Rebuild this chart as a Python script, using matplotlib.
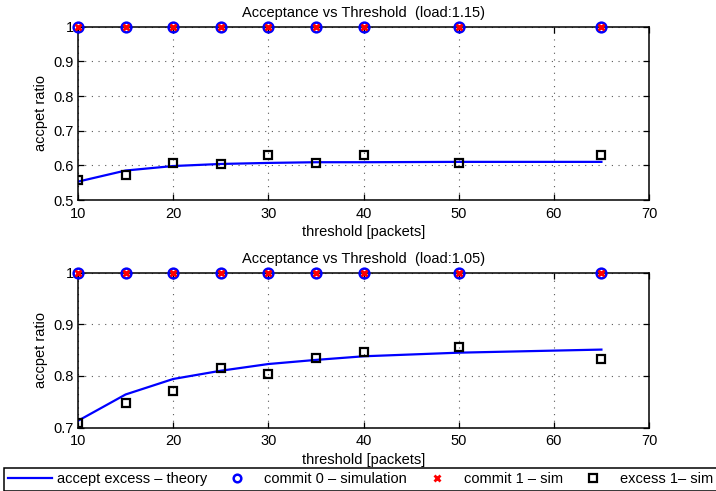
import numpy as np
import matplotlib
matplotlib.use('Agg')
import matplotlib.pyplot as plt

plt.rcParams['font.family'] = ['Liberation Sans', 'DejaVu Sans']
plt.rcParams['font.size'] = 10.5

# thresholds [packets]
threshold = [10, 15, 20, 25, 30, 35, 40, 50, 65]

# load 1.15
theory_115 = [0.553, 0.585, 0.598, 0.604, 0.607, 0.609, 0.609, 0.610, 0.610]
commit0_115 = [1, 1, 1, 1, 1, 1, 1, 1, 1]
commit1_115 = [1, 1, 1, 1, 1, 1, 1, 1, 1]
excess1_115 = [0.558, 0.572, 0.606, 0.603, 0.630, 0.606, 0.630, 0.608, 0.630]

# load 1.05
theory_105 = [0.713, 0.764, 0.794, 0.810, 0.823, 0.831, 0.838, 0.845, 0.851]
commit0_105 = [1, 1, 1, 1, 1, 1, 1, 1, 1]
commit1_105 = [1, 1, 1, 1, 1, 1, 1, 1, 1]
excess1_105 = [0.708, 0.747, 0.771, 0.816, 0.804, 0.834, 0.847, 0.856, 0.832]

xticks = [10, 20, 30, 40, 50, 60, 70]
yticks_top = [0.5, 0.6, 0.7, 0.8, 0.9, 1.0]
ylabels_top = ['0.5', '0.6', '0.7', '0.8', '0.9', '1']
yticks_bot = [0.7, 0.8, 0.9, 1.0]
ylabels_bot = ['0.7', '0.8', '0.9', '1']

fig = plt.figure(figsize=(7.16, 4.91), dpi=100)
ax1 = fig.add_axes([78 / 716, 1 - 200 / 491, 571 / 716, 173.3 / 491])
ax2 = fig.add_axes([78 / 716, 1 - 427.5 / 491, 571 / 716, 154.8 / 491])


def draw(ax, theory, c0, c1, ex, title, yt, yl, ylim):
    h1, = ax.plot(threshold, theory, color='#0000ff', lw=1.6, label='accept excess \u2013 theory')
    h2, = ax.plot(threshold, c0, 'o', ms=7, mfc='none', mec='#0000ff', mew=1.8,
                  label='commit 0 \u2013 simulation', clip_on=False, zorder=4)
    h3, = ax.plot(threshold, c1, 'x', ms=4.5, color='#ff0000', mew=2,
                  label='commit 1 \u2013 sim', clip_on=False, zorder=5)
    h4, = ax.plot(threshold, ex, 's', ms=5.5, mfc='none', mec='black', mew=1.6,
                  label='excess 1\u2013 sim', zorder=4)
    ax.set_xlim(10, 70)
    ax.set_ylim(*ylim)
    ax.set_xticks(xticks)
    ax.set_yticks(yt)
    ax.set_yticklabels(yl)
    ax.grid(True, color='0.35', linestyle=(0, (1, 5)), lw=0.8)
    ax.tick_params(direction='in', top=True, right=True, length=4, width=0.9)
    ax.tick_params(axis='x', pad=5)
    ax.tick_params(axis='y', pad=3)
    for s in ax.spines.values():
        s.set_linewidth(1.1)
    ax.set_title(title, fontsize=10.5, pad=7)
    ax.set_xlabel('threshold [packets]', labelpad=3)
    ax.set_ylabel('accpet ratio', labelpad=4)
    return [h1, h2, h3, h4]


handles = draw(ax1, theory_115, commit0_115, commit1_115, excess1_115,
               'Acceptance vs Threshold  (load:1.15)', yticks_top, ylabels_top, (0.5, 1.0))
draw(ax2, theory_105, commit0_105, commit1_105, excess1_105,
     'Acceptance vs Threshold  (load:1.05)', yticks_bot, ylabels_bot, (0.7, 1.0))

leg = fig.legend(handles=handles, loc='lower left', ncol=4,
                 bbox_to_anchor=(4 / 716, 0.5 / 491), bbox_transform=fig.transFigure,
                 frameon=True, fancybox=False, edgecolor='black', framealpha=1,
                 handlelength=3.0, handletextpad=0.35, columnspacing=0.55,
                 borderpad=0.3, borderaxespad=0, fontsize=10.5)
leg.get_frame().set_linewidth(1.1)
for h in leg.legend_handles:
    if h.get_marker() == 'o':
        h.set_markersize(5.5)

fig.savefig('out.png', dpi=100)
